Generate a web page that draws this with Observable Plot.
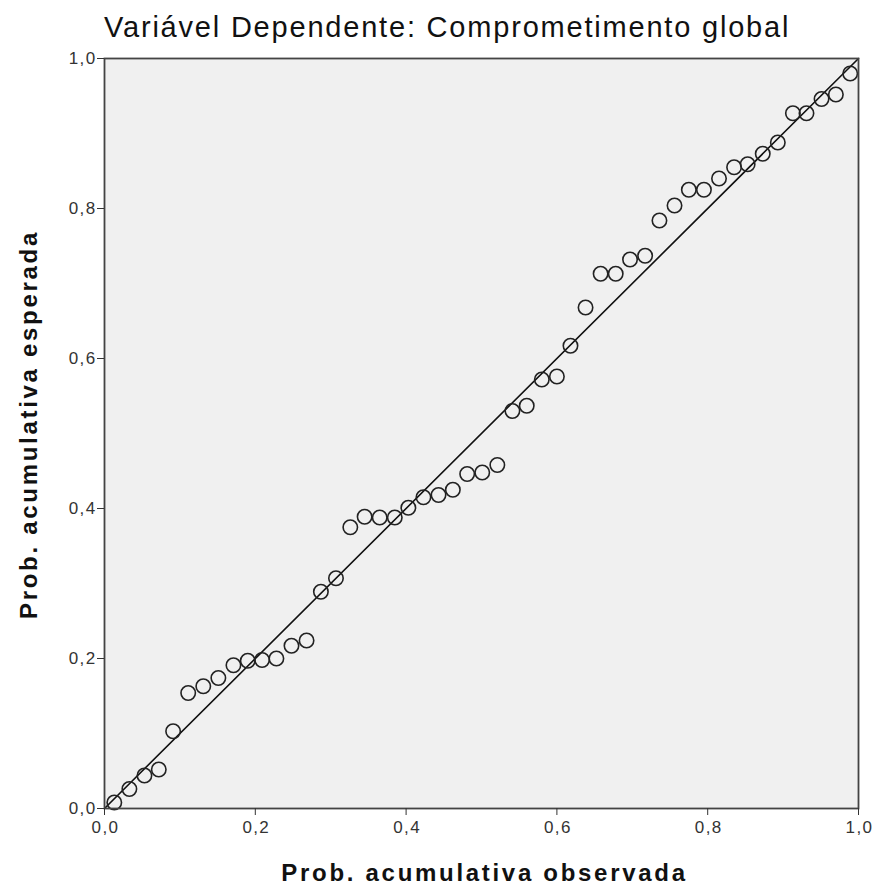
<!DOCTYPE html>
<html>
<head>
<meta charset="utf-8">
<script src="https://cdn.jsdelivr.net/npm/d3@7"></script>
<script src="https://cdn.jsdelivr.net/npm/@observablehq/plot@0.6"></script>
<style>
  html, body { margin: 0; padding: 0; background: #fff; }
  #title { height: 50px; box-sizing: border-box; padding-left: 104px; padding-top: 10px;
           font-family: "Liberation Sans", Arial, sans-serif; font-size: 29px; letter-spacing: 1.8px;
           color: #111; line-height: 34px; white-space: nowrap; }
  svg { display: block; }
</style>
</head>
<body>
<div id="title">Variável Dependente: Comprometimento global</div>
<div id="chart"></div>
<script>
const titleText = "Variável Dependente: Comprometimento global";
const xLabel = "Prob. acumulativa observada";
const yLabel = "Prob. acumulativa esperada";
const tickValues = [0, 0.2, 0.4, 0.6, 0.8, 1.0];

const observed = [0.013, 0.033, 0.053, 0.072, 0.091, 0.111, 0.131, 0.151, 0.171, 0.190, 0.209, 0.228, 0.248, 0.268, 0.287, 0.307, 0.326, 0.345, 0.365, 0.385, 0.403, 0.423, 0.443, 0.462, 0.481, 0.501, 0.521, 0.541, 0.560, 0.580, 0.600, 0.618, 0.638, 0.658, 0.678, 0.697, 0.717, 0.736, 0.756, 0.775, 0.795, 0.815, 0.835, 0.853, 0.873, 0.893, 0.913, 0.931, 0.951, 0.970, 0.989];
const expected = [0.008, 0.026, 0.044, 0.052, 0.103, 0.154, 0.163, 0.174, 0.191, 0.197, 0.198, 0.200, 0.217, 0.224, 0.289, 0.307, 0.375, 0.389, 0.388, 0.388, 0.401, 0.415, 0.418, 0.425, 0.446, 0.448, 0.458, 0.530, 0.537, 0.572, 0.576, 0.617, 0.668, 0.713, 0.713, 0.732, 0.737, 0.784, 0.804, 0.825, 0.825, 0.840, 0.855, 0.859, 0.873, 0.888, 0.927, 0.927, 0.946, 0.952, 0.980];
const refLine = [0, 1];

const points = observed.map((x, i) => ({x, y: expected[i]}));
const fmt = d => d.toFixed(1).replace(".", ",");

const plot = Plot.plot({
  width: 876,
  height: 846,
  marginTop: 8,
  marginBottom: 88,
  marginLeft: 104,
  marginRight: 18,
  style: {fontFamily: "'Liberation Sans', Arial, sans-serif", color: "#333", background: "#fff"},
  x: {domain: [0, 1]},
  y: {domain: [0, 1]},
  marks: [
    Plot.frame({fill: "#f0f0f0"}),
    Plot.line(refLine, {x: d => d, y: d => d, stroke: "#111", strokeWidth: 1.6}),
    Plot.dot(points, {x: "x", y: "y", r: 7.2, stroke: "#222", strokeWidth: 1.6, fill: "none"}),
    Plot.frame({stroke: "#444", strokeWidth: 1.8}),
    Plot.axisX({ticks: tickValues, tickFormat: () => "", tickSize: 7, label: null, stroke: "#333"}),
    Plot.axisY({ticks: tickValues, tickFormat: () => "", tickSize: 7, label: null, stroke: "#333"}),
    Plot.text(tickValues, {x: d => d, frameAnchor: "bottom", dx: 1, dy: 12, lineAnchor: "top", text: fmt, fontSize: 17, fill: "#333"}),
    Plot.text(tickValues, {y: d => d, frameAnchor: "left", dx: -8, textAnchor: "end", text: fmt, fontSize: 17, fill: "#333"}),
    Plot.text([xLabel], {text: d => d, frameAnchor: "bottom", textAnchor: "middle", dx: 3, dy: 72, fontSize: 24, fontWeight: "bold", fill: "#111"}),
    Plot.text([yLabel], {text: d => d, frameAnchor: "left", textAnchor: "middle", dx: -75, dy: -9, rotate: -90, fontSize: 24, fontWeight: "bold", fill: "#111"})
  ]
});
const textGroups = plot.querySelectorAll('g[aria-label="text"]');
textGroups.forEach((g, i) => g.setAttribute("letter-spacing", i < 2 ? "1.4px" : "2.7px"));
document.getElementById("chart").appendChild(plot);
</script>
</body>
</html>
